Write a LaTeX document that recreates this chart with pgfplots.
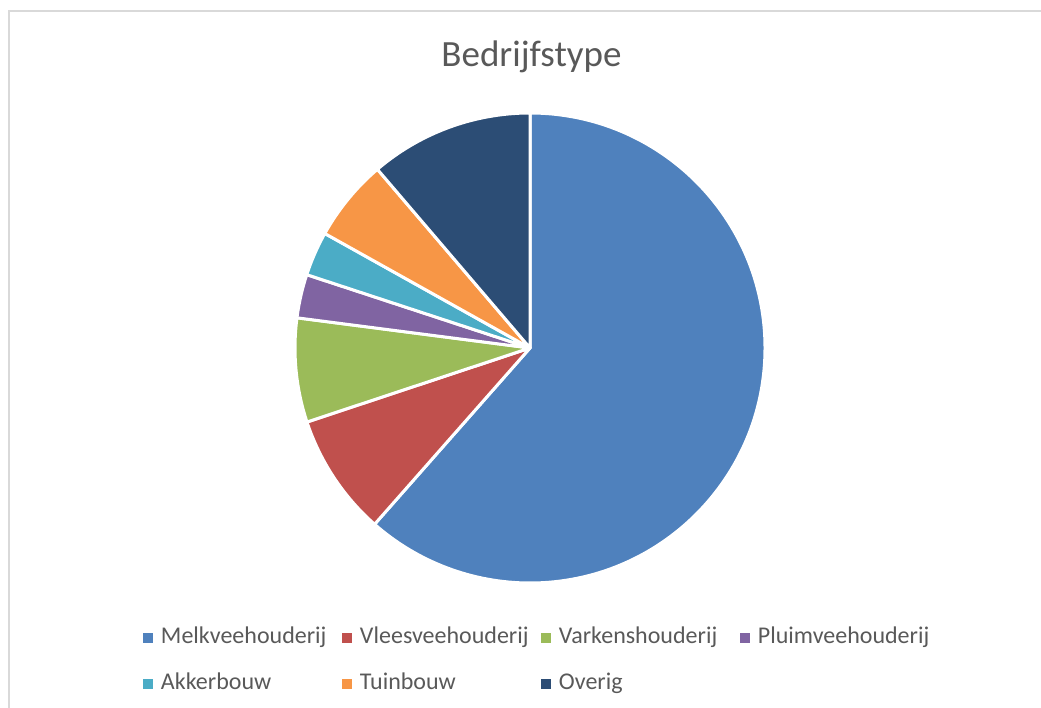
\documentclass[border=0pt]{standalone}
\usepackage{fontspec}
\setmainfont{Carlito}
\usepackage{pgfplots}
\usepackage{pgfplotstable}
\pgfplotsset{compat=1.18}

\definecolor{c0}{HTML}{4F81BD}
\definecolor{c1}{HTML}{C0504D}
\definecolor{c2}{HTML}{9BBB59}
\definecolor{c3}{HTML}{8064A2}
\definecolor{c4}{HTML}{4BACC6}
\definecolor{c5}{HTML}{F79646}
\definecolor{c6}{HTML}{2C4D75}
\definecolor{tgray}{HTML}{595959}
\definecolor{fgray}{HTML}{D9D9D9}

\pgfplotstableread{
name value
Melkveehouderij 61.5
Vleesveehouderij 8.4
Varkenshouderij 7.15
Pluimveehouderij 3.0
Akkerbouw 3.05
Tuinbouw 5.65
Overig 11.25
}\piedata

\begin{document}
\begin{tikzpicture}
\useasboundingbox (0,0) rectangle (1041pt,707pt);
% cumulative angles from the table
\def\cum{0}
\pgfplotsforeachungrouped \i in {0,...,6}{%
  \pgfplotstablegetelem{\i}{value}\of\piedata
  \pgfmathsetmacro\s{90-3.6*\cum}%
  \pgfmathsetmacro\cum{\cum+\pgfplotsretval}%
  \pgfmathsetmacro\e{90-3.6*\cum}%
  \expandafter\xdef\csname pieS\i\endcsname{\s}%
  \expandafter\xdef\csname pieE\i\endcsname{\e}%
}
\begin{axis}[
  at={(0pt,0pt)}, anchor=south west,
  scale only axis, width=1041pt, height=707pt,
  xmin=0, xmax=1041, ymin=0, ymax=707,
  hide axis, clip=false,
  sq/.style={legend image code/.code={\fill[##1, draw=none] (0pt,-5pt) rectangle (10pt,5pt);}},
  legend columns=4,
  legend cell align=left,
  legend style={
    at={(143/1041,81/707)}, anchor=north west,
    draw=none, fill=none, inner sep=0pt, outer sep=0pt,
    column sep=0pt, row sep=23pt,
    font=\fontsize{24}{29}\selectfont, text=tgray,
    nodes={inner sep=0pt, text height=17pt, text depth=6pt},
    /tikz/every odd column/.append style={column sep=8pt},
    /tikz/every even column/.append style={text width=181pt},
  },
]
\pgfplotsforeachungrouped \i in {0,...,6}{%
  \edef\temp{\noexpand\filldraw[fill=c\i, draw=white, line width=3pt, line join=round]
    (axis cs:530,359) -- ++(\csname pieS\i\endcsname:235pt)
    arc[start angle=\csname pieS\i\endcsname, end angle=\csname pieE\i\endcsname, radius=235pt] -- cycle;}%
  \temp
}
\addlegendimage{sq, fill=c0}\addlegendentry{Melkveehouderij}
\addlegendimage{sq, fill=c1}\addlegendentry{Vleesveehouderij}
\addlegendimage{sq, fill=c2}\addlegendentry{Varkenshouderij}
\addlegendimage{sq, fill=c3}\addlegendentry{Pluimveehouderij}
\addlegendimage{sq, fill=c4}\addlegendentry{Akkerbouw}
\addlegendimage{sq, fill=c5}\addlegendentry{Tuinbouw}
\addlegendimage{sq, fill=c6}\addlegendentry{Overig}
\end{axis}
\draw[fgray, line width=2pt] (8.5pt,-2pt) -- (8.5pt,695.5pt) -- (1043pt,695.5pt);
\node[anchor=base, text=tgray, font=\fontsize{37}{44}\selectfont, inner sep=0pt] at (531.5pt,640pt) {Bedrijfstype};
\end{tikzpicture}
\end{document}
